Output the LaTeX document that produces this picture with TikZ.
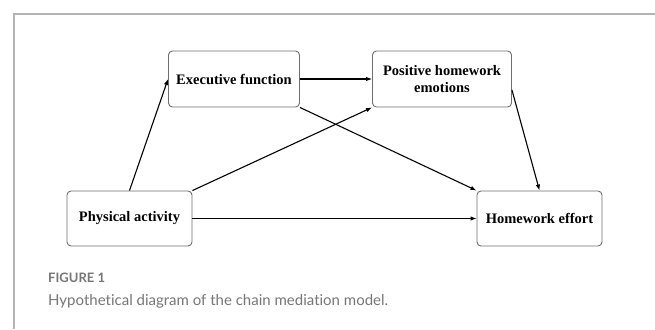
\documentclass[tikz,border=0pt]{standalone}
\usepackage{fontspec}
\setmainfont{Liberation Serif}
\newfontfamily\capfont[Ligatures=NoCommon]{Lato}
\usetikzlibrary{arrows.meta}
\definecolor{framegray}{HTML}{B4B4B4}
\definecolor{boxgray}{HTML}{6E6E6E}
\definecolor{capgray}{HTML}{767676}
\tikzset{
  var/.style={draw=boxgray, line width=0.9pt, rounded corners=4pt, fill=white,
    align=center, inner sep=2pt, font=\bfseries\fontsize{14.5}{16.5}\selectfont},
  path/.style={line width=1.1pt, -{Latex[length=6pt,width=4.5pt]}},
}
\begin{document}
\begin{tikzpicture}[x=1pt, y=-1pt]
\useasboundingbox (0,0) rectangle (655,329);
\draw[framegray, line width=1.6pt] (14,329) -- (14,14) -- (655,14);

\def\xa{129.5};
\def\xb{234};
\def\xc{442};
\def\xd{539.5};

\def\ya{79};
\def\yb{218.5};

\node[var, minimum width=131pt, minimum height=56pt] (ef) at (\xb, \ya) {Executive function};
\node[var, minimum width=139pt, minimum height=56pt] (phe) at (\xc, \ya) {Positive homework\\emotions};
\node[var, minimum width=125pt, minimum height=55pt] (pa) at (\xa, \yb) {Physical activity};
\node[var, minimum width=125pt, minimum height=55pt] (he) at (\xd, \yb) {Homework effort};

\draw[path] (pa.north) -- (ef.west);
\draw[path] (ef.east) -- (phe.west);
\draw[path] (pa.north east) -- (phe.south west);
\draw[path] (ef.south east) -- (he.north west);
\draw[path] ([yshift=-11pt]phe.east) -- (he.north);
\draw[path] (pa.east) -- (he.west);

\node[anchor=base west, inner sep=0pt, text=capgray, font=\capfont\bfseries\fontsize{13}{15}\selectfont] (fig) at (48,282.5) {FIGURE 1};
\node[anchor=base west, inner sep=0pt, text=capgray, font=\capfont\fontsize{15}{18}\selectfont] (cap) at (48,305.5) {Hypothetical diagram of the chain mediation model.};
\end{tikzpicture}
\end{document}
